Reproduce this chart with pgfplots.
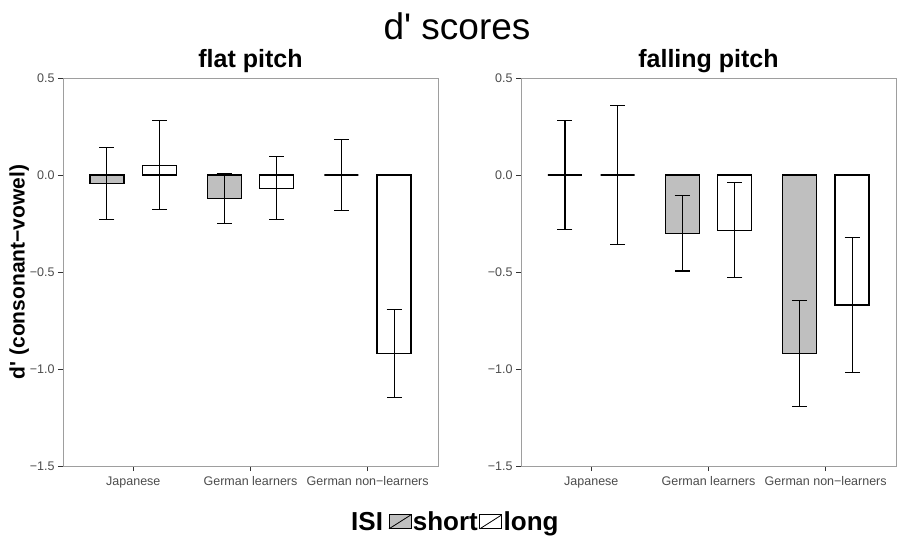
\documentclass[border=0pt]{standalone}
\usepackage{fontspec}
\setmainfont{Liberation Sans}
\usepackage{pgfplots}
\pgfplotsset{compat=1.18}

\definecolor{shortfill}{gray}{0.75}
\definecolor{ticktext}{gray}{0.3}
\definecolor{framegray}{gray}{0.62}

\pgfplotsset{
  dpanel/.style={
    scale only axis, width=375pt, height=388pt, anchor=south west,
    xmin=0.4, xmax=3.6, ymin=-1.5, ymax=0.5,
    xtick={1,2,3},
    xticklabels={Japanese, German learners, German non−learners},
    ytick={-1.5,-1,-0.5,0,0.5},
    yticklabels={−1.5,−1.0,−0.5,0.0,0.5},
    xtick pos=bottom, ytick pos=left, tick align=outside,
    major tick length=5pt,
    axis line style={framegray, line width=0.8pt},
    tick style={gray!40!black, line width=0.8pt},
    tick label style={font=\fontsize{12.5}{14}\selectfont, text=ticktext},
    xticklabel style={yshift=-2pt},
    title style={font=\fontsize{25}{28}\selectfont\bfseries,
      at={(0.5,1)}, anchor=base, yshift=5pt},
  },
  % error bars drawn as their own plots at the shifted bar centres
  errs/.style={draw=none, mark=none, forget plot,
    error bars/y dir=both, error bars/y explicit,
    error bars/error bar style={black, line width=1.1pt},
    error bars/error mark options={rotate=90, black, line width=1.1pt, mark size=7.5pt},
  },
  shortbar/.style={ybar, bar width=0.29, bar shift=-0.225,
    fill=shortfill, draw=black, line width=1.2pt,
    legend image code/.code={
      \draw[fill=shortfill, draw=black, line width=0.8pt] (0pt,-7pt) rectangle (22pt,7pt);
      \draw[line width=0.8pt] (0pt,-7pt) -- (22pt,7pt);}},
  longbar/.style={ybar, bar width=0.29, bar shift=0.225,
    fill=white, draw=black, line width=1.2pt,
    legend image code/.code={
      \draw[fill=white, draw=black, line width=0.8pt] (0pt,-7pt) rectangle (22pt,7pt);
      \draw[line width=0.8pt] (0pt,-7pt) -- (22pt,7pt);}},
}

\begin{document}
\begin{tikzpicture}
\path[use as bounding box, fill=white] (0,0) rectangle (900pt,542pt);

\node[font=\fontsize{37}{42}\selectfont, anchor=base] at (457pt,502pt) {d\textquotesingle{} scores};

% flat pitch
\begin{axis}[dpanel, at={(63pt,76pt)}, title={flat pitch},
  ylabel={d\textquotesingle{} (consonant−vowel)},
  ylabel style={font=\fontsize{21}{24}\selectfont\bfseries,
    at={(axis description cs:-0.117,0.5)}, anchor=center},
  legend columns=-1,
  legend style={at={(1.045,-0.144)}, anchor=center, draw=none, fill=none,
    font=\fontsize{26}{30}\selectfont\bfseries, inner sep=0pt,
    nodes={inner sep=1.5pt}, column sep=0pt},
]
\addlegendimage{empty legend}
\addlegendentry{ISI\hspace*{4pt}}
\addplot[shortbar] coordinates {(1,-0.045) (2,-0.12) (3,0.0)};
\addlegendentry{short}
\addplot[longbar] coordinates {(1,0.05) (2,-0.068) (3,-0.92)};
\addlegendentry{long}
\addplot[errs] coordinates {
  (0.775,-0.045) +- (0,0.185)
  (1.775,-0.12)  +- (0,0.13)
  (2.775,0.0)    +- (0,0.185)
  (1.225,0.05)   +- (0,0.23)
  (2.225,-0.068) +- (0,0.163)
  (3.225,-0.92)  +- (0,0.225)
};
\end{axis}

% falling pitch
\begin{axis}[dpanel, at={(521pt,76pt)}, title={falling pitch}]
\addplot[shortbar] coordinates {(1,0.0) (2,-0.30) (3,-0.92)};
\addplot[longbar] coordinates {(1,0.0) (2,-0.285) (3,-0.67)};
\addplot[errs] coordinates {
  (0.775,0.0)   +- (0,0.28)
  (1.775,-0.30) +- (0,0.195)
  (2.775,-0.92) +- (0,0.275)
  (1.225,0.0)    +- (0,0.36)
  (2.225,-0.285) +- (0,0.245)
  (3.225,-0.67)  +- (0,0.35)
};
\end{axis}
\end{tikzpicture}
\end{document}
